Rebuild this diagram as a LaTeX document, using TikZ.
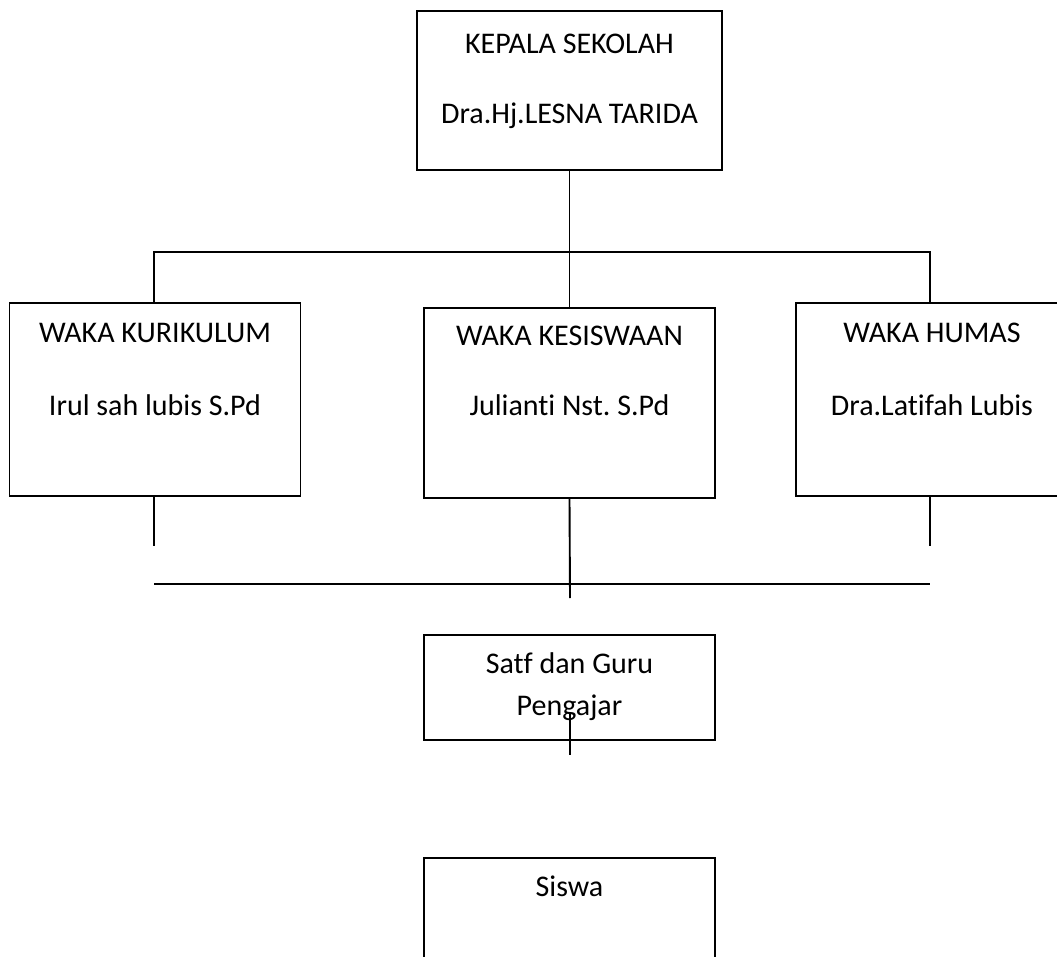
\documentclass[tikz,border=0pt]{standalone}
\usepackage{fontspec}
\setmainfont{Carlito}[Ligatures=NoCommon]
\usepackage{tikz}
\frenchspacing
\tikzset{
    unit-box/.style = {draw=black, line width=1.9pt, rectangle, inner sep=0pt, anchor=north},
    unit-text/.style = {font=\fontsize{30}{36}\selectfont, anchor=base, inner sep=0pt},
    org-line/.style = {draw=black, line width=1.9pt},
}

\begin{document}
\begin{tikzpicture}[x=1pt, y=-1pt]
\useasboundingbox (0,0) rectangle (1057,957);

% kotak
\node [unit-box, minimum width=305pt, minimum height=159pt] (kepala) at (569.5,10) {};
\node [unit-box, minimum width=291pt, minimum height=193pt] (kurikulum) at (155,302) {};
\node [unit-box, minimum width=291pt, minimum height=190pt] (kesiswaan) at (569.5,307) {};
\node [unit-box, minimum width=272pt, minimum height=193pt] (humas) at (932,302) {};
\node [unit-box, minimum width=291pt, minimum height=105pt] (guru) at (569.5,634) {};
\node [unit-box, minimum width=291pt, minimum height=115pt] (siswa) at (569.5,857) {};

% teks
\node[unit-text] (kepala-title) at (569.5,54) {KEPALA SEKOLAH};
\node[unit-text] (kepala-name) at (569.5,124) {Dra.Hj.LESNA TARIDA};
\node[unit-text] (kurikulum-title) at (155,343) {WAKA KURIKULUM};
\node[unit-text] (kurikulum-name) at (155,415) {Irul sah lubis S.Pd};
\node[unit-text] (kesiswaan-title) at (569.5,346) {WAKA KESISWAAN};
\node[unit-text] (kesiswaan-name) at (569.5,415) {Julianti Nst. S.Pd};
\node[unit-text] (humas-title) at (932,343) {WAKA HUMAS};
\node[unit-text] (humas-name) at (932,415) {Dra.Latifah Lubis};
\node[unit-text] (guru-title) at (569.5,673) {Satf dan Guru};
\node[unit-text] (guru-title2) at (569.5,715) {Pengajar};
\node[unit-text] (siswa-title) at (569.5,896) {Siswa};

% titik bantu
\coordinate (top-left) at (154,252);
\coordinate (top-right) at (930,252);
\coordinate (low-left) at (154,584);
\coordinate (low-right) at (930,584);
\coordinate (left-end) at (154,546);
\coordinate (right-end) at (930,546);
\coordinate (mid-end) at (570,598);
\coordinate (guru-start) at (570,712);
\coordinate (guru-end) at (570,755);

% garis
\draw[org-line] (kepala.south) -- (kesiswaan.north);
\draw[org-line] (kurikulum.north -| top-left) -- (top-left) -- (top-right) -- (humas.north -| top-right);
\draw[org-line] (kurikulum.south -| left-end) -- (left-end);
\draw[org-line] (humas.south -| right-end) -- (right-end);
\draw[org-line] (kesiswaan.south) -- (mid-end);
\draw[org-line] (low-left) -- (low-right);
\draw[org-line] (guru-start) -- (guru-end);
\end{tikzpicture}
\end{document}
